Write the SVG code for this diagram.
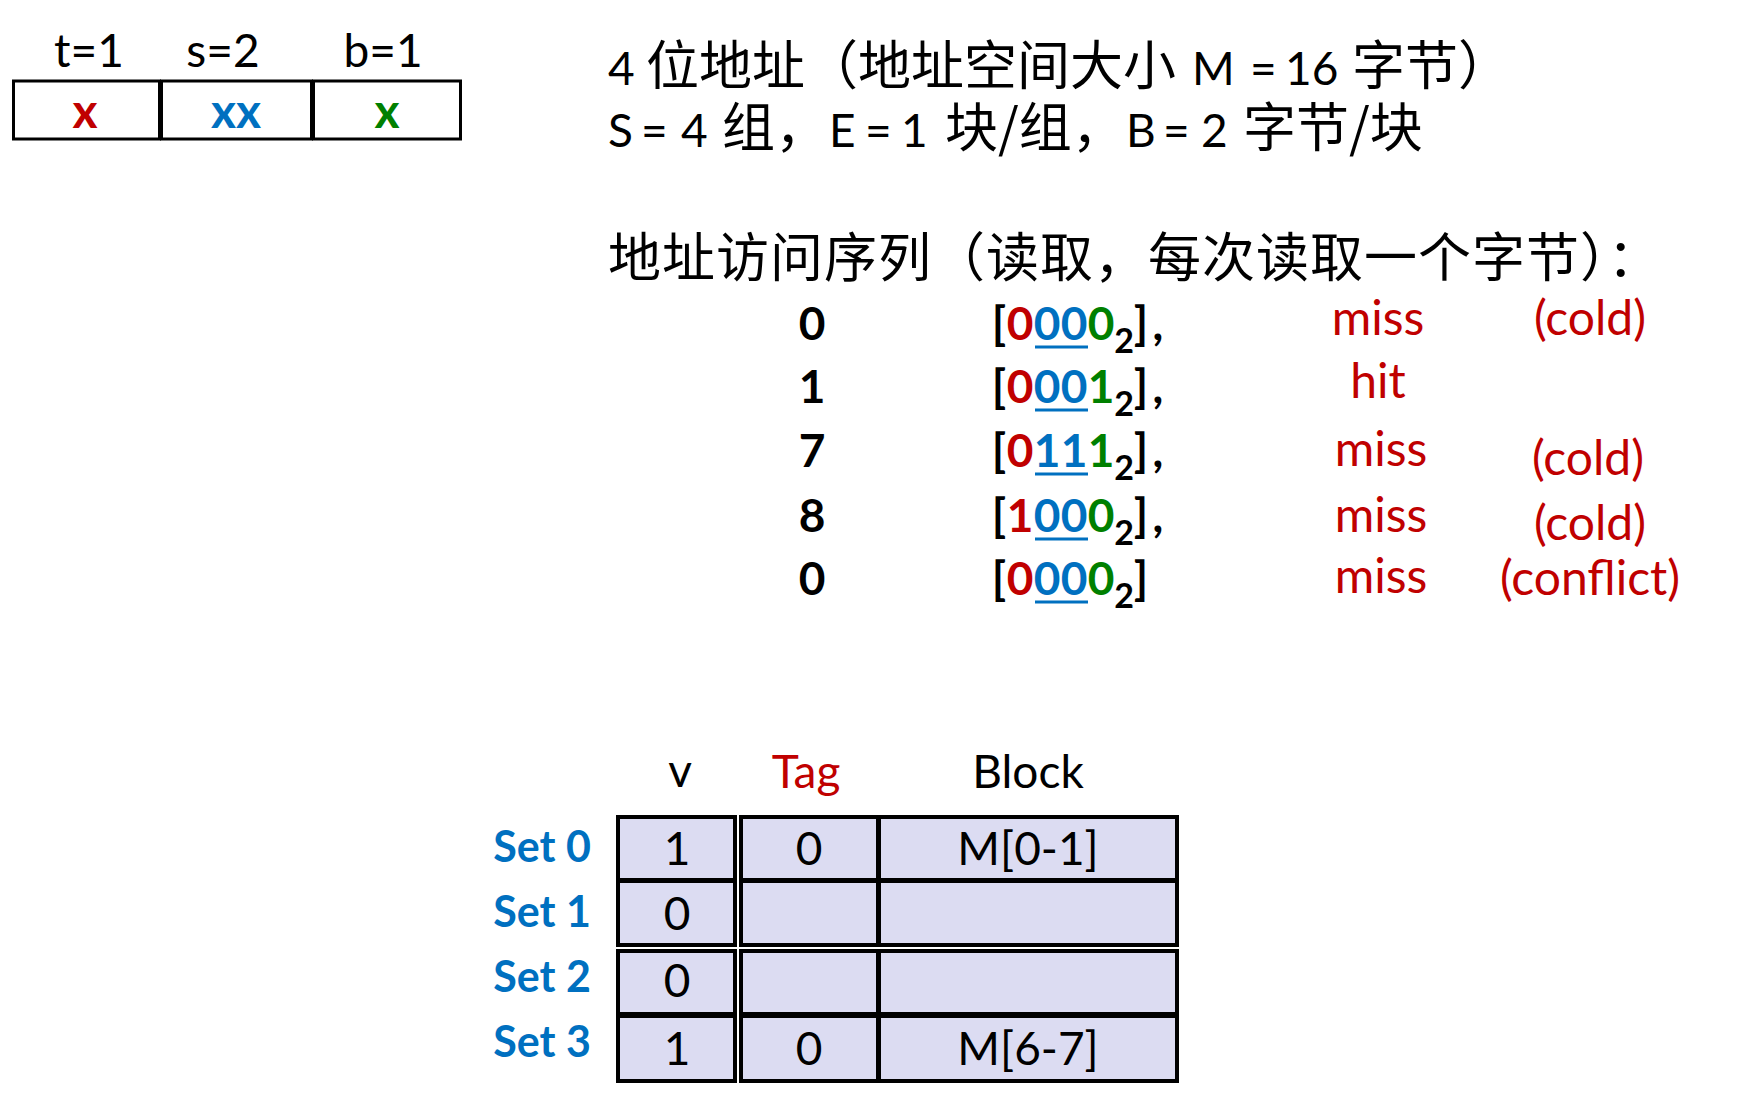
<svg xmlns="http://www.w3.org/2000/svg" width="1745" height="1096" viewBox="0 0 1745 1096">
<style>
.lat{font-family:Lato,"Noto Sans",sans-serif;}
.cjk{font-family:"Noto Sans CJK SC","Noto Sans",sans-serif;font-size:53px;}
.l46{font-family:Lato,"Noto Sans",sans-serif;font-size:46px;}
.b{font-weight:bold;}
.t46{font-size:46px;}
.t48{font-size:48px;}
.red{fill:#C00000;}
.blue{fill:#0070C0;}
.green{fill:#008000;}
.mid{text-anchor:middle;}
.end{text-anchor:end;}
.box{fill:#fff;stroke:#000;stroke-width:3;}
.cell{fill:#DCDCF2;stroke:#000;stroke-width:4;}
.ul{stroke:#0070C0;stroke-width:3;}
</style>
<g id="address-format">
<rect class="box" x="13.5" y="81" width="146" height="58"/>
<rect class="box" x="161.5" y="81" width="150" height="58"/>
<rect class="box" x="313.5" y="81" width="147" height="58"/>
<text class="lat t46 mid" x="89" y="67">t=1</text>
<text class="lat t46 mid" x="223" y="67">s=2</text>
<text class="lat t46 mid" x="383" y="67">b=1</text>
<text class="lat b mid red" font-size="48" x="85" y="128">x</text>
<text class="lat b mid blue" font-size="48" x="236" y="128">xx</text>
<text class="lat b mid green" font-size="48" x="387" y="128">x</text>
</g>
<g id="title">
<text y="85"><tspan class="l46" x="608">4</tspan><tspan class="cjk" x="646">位地址（地址空间大小</tspan><tspan class="l46" x="1192">M</tspan><tspan class="l46" x="1250">=</tspan><tspan class="l46" x="1285">16</tspan><tspan class="cjk" x="1352">字节）</tspan></text>
<text y="147"><tspan class="l46" x="608">S</tspan><tspan class="l46" x="641">=</tspan><tspan class="l46" x="681">4</tspan><tspan class="cjk" x="722">组，</tspan><tspan class="l46" x="829">E</tspan><tspan class="l46" x="865">=</tspan><tspan class="l46" x="901">1</tspan><tspan class="cjk" x="945">块/组，</tspan><tspan class="l46" x="1126">B</tspan><tspan class="l46" x="1163">=</tspan><tspan class="l46" x="1201">2</tspan><tspan class="cjk" x="1243">字节/块</tspan></text>
<text class="cjk" x="608" y="277" letter-spacing="1">地址访问序列（读取，每次读取一个字节）：</text>
</g>
<g id="sequence" class="lat">
<g class="b t46 mid">
<text x="812" y="340">0</text>
<text x="812" y="403">1</text>
<text x="812" y="467">7</text>
<text x="812" y="532">8</text>
<text x="812" y="595">0</text>
</g>
<g id="addr-row1" class="b t46 mid">
<text x="999" y="340">[</text>
<text class="red" x="1020" y="340">0</text>
<text class="blue" x="1047" y="340">0</text>
<text class="blue" x="1074" y="340">0</text>
<text class="green" x="1101" y="340">0</text>
<text font-size="34" x="1124" y="353">2</text>
<text x="1141" y="340">]</text>
<text x="1158" y="340">,</text>
<line class="ul" x1="1035" y1="347" x2="1088" y2="347"/>
</g>
<g id="addr-row2" class="b t46 mid">
<text x="999" y="403">[</text>
<text class="red" x="1020" y="403">0</text>
<text class="blue" x="1047" y="403">0</text>
<text class="blue" x="1074" y="403">0</text>
<text class="green" x="1101" y="403">1</text>
<text font-size="34" x="1124" y="416">2</text>
<text x="1141" y="403">]</text>
<text x="1158" y="403">,</text>
<line class="ul" x1="1035" y1="410" x2="1088" y2="410"/>
</g>
<g id="addr-row3" class="b t46 mid">
<text x="999" y="467">[</text>
<text class="red" x="1020" y="467">0</text>
<text class="blue" x="1047" y="467">1</text>
<text class="blue" x="1074" y="467">1</text>
<text class="green" x="1101" y="467">1</text>
<text font-size="34" x="1124" y="480">2</text>
<text x="1141" y="467">]</text>
<text x="1158" y="467">,</text>
<line class="ul" x1="1035" y1="474" x2="1088" y2="474"/>
</g>
<g id="addr-row4" class="b t46 mid">
<text x="999" y="532">[</text>
<text class="red" x="1020" y="532">1</text>
<text class="blue" x="1047" y="532">0</text>
<text class="blue" x="1074" y="532">0</text>
<text class="green" x="1101" y="532">0</text>
<text font-size="34" x="1124" y="545">2</text>
<text x="1141" y="532">]</text>
<text x="1158" y="532">,</text>
<line class="ul" x1="1035" y1="539" x2="1088" y2="539"/>
</g>
<g id="addr-row5" class="b t46 mid">
<text x="999" y="595">[</text>
<text class="red" x="1020" y="595">0</text>
<text class="blue" x="1047" y="595">0</text>
<text class="blue" x="1074" y="595">0</text>
<text class="green" x="1101" y="595">0</text>
<text font-size="34" x="1124" y="608">2</text>
<text x="1141" y="595">]</text>
<line class="ul" x1="1035" y1="602" x2="1088" y2="602"/>
</g>
<g class="t48 mid red">
<text x="1378" y="335">miss</text>
<text x="1378" y="398">hit</text>
<text x="1381" y="466">miss</text>
<text x="1381" y="532">miss</text>
<text x="1381" y="593">miss</text>
<text x="1590" y="335">(cold)</text>
<text x="1588" y="475">(cold)</text>
<text x="1590" y="540">(cold)</text>
<text x="1590" y="595">(conflict)</text>
</g>
</g>
<g id="cache" class="lat">
<g id="headers" class="t46 mid">
<text x="680" y="787">v</text>
<text class="red" x="806" y="788">Tag</text>
<text x="1028" y="788">Block</text>
</g>
<g id="set-labels" class="b blue end" font-size="43">
<text x="591" y="862">Set 0</text>
<text x="591" y="927">Set 1</text>
<text x="591" y="992">Set 2</text>
<text x="591" y="1057">Set 3</text>
</g>
<g id="set0">
<rect class="cell" x="618" y="817" width="117" height="63"/>
<rect class="cell" x="741" y="817" width="137" height="63"/>
<rect class="cell" x="879" y="817" width="298" height="63"/>
<text class="t46 mid" x="677" y="865">1</text>
<text class="t46 mid" x="809" y="865">0</text>
<text class="t46 mid" x="1028" y="865">M[0-1]</text>
</g>
<g id="set1">
<rect class="cell" x="618" y="881" width="117" height="64"/>
<rect class="cell" x="741" y="881" width="137" height="64"/>
<rect class="cell" x="879" y="881" width="298" height="64"/>
<text class="t46 mid" x="677" y="930">0</text>
</g>
<g id="set2">
<rect class="cell" x="618" y="951" width="117" height="63"/>
<rect class="cell" x="741" y="951" width="137" height="63"/>
<rect class="cell" x="879" y="951" width="298" height="63"/>
<text class="t46 mid" x="677" y="997">0</text>
</g>
<g id="set3">
<rect class="cell" x="618" y="1016" width="117" height="65"/>
<rect class="cell" x="741" y="1016" width="137" height="65"/>
<rect class="cell" x="879" y="1016" width="298" height="65"/>
<text class="t46 mid" x="677" y="1065">1</text>
<text class="t46 mid" x="809" y="1065">0</text>
<text class="t46 mid" x="1028" y="1065">M[6-7]</text>
</g>
</g>
<g id="connectors"/>
</svg>
